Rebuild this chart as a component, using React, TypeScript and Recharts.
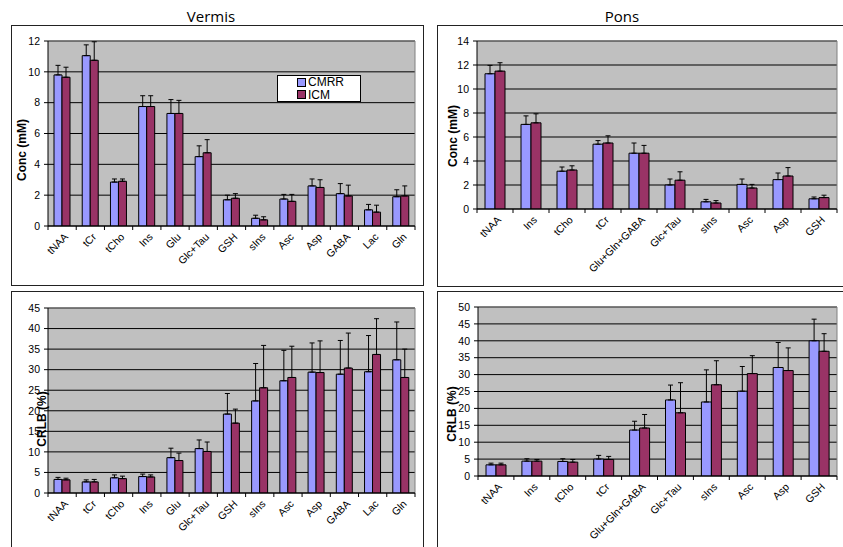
import React from 'react';
import { BarChart, Bar, XAxis, YAxis, CartesianGrid, ErrorBar, Legend } from 'recharts';

const vermisCategories = ['tNAA', 'tCr', 'tCho', 'Ins', 'Glu', 'Glc+Tau', 'GSH', 'sIns', 'Asc', 'Asp', 'GABA', 'Lac', 'Gln'];
const ponsCategories = ['tNAA', 'Ins', 'tCho', 'tCr', 'Glu+Gln+GABA', 'Glc+Tau', 'sIns', 'Asc', 'Asp', 'GSH'];

// concentrations (mM), mean and SD
const vermisConcCmrr = [9.8, 11.05, 2.85, 7.75, 7.3, 4.5, 1.7, 0.5, 1.75, 2.6, 2.1, 1.05, 1.9];
const vermisConcCmrrSd = [0.62, 0.7, 0.2, 0.7, 0.9, 0.7, 0.3, 0.2, 0.3, 0.45, 0.65, 0.35, 0.45];
const vermisConcIcm = [9.65, 10.75, 2.9, 7.75, 7.3, 4.75, 1.8, 0.4, 1.6, 2.5, 1.95, 0.9, 1.95];
const vermisConcIcmSd = [0.65, 1.2, 0.15, 0.7, 0.85, 0.85, 0.3, 0.2, 0.45, 0.5, 0.7, 0.45, 0.65];

const ponsConcCmrr = [11.27, 7.05, 3.15, 5.4, 4.65, 2.0, 0.6, 2.05, 2.45, 0.85];
const ponsConcCmrrSd = [0.7, 0.71, 0.35, 0.3, 0.85, 0.5, 0.2, 0.45, 0.55, 0.15];
const ponsConcIcm = [11.49, 7.18, 3.25, 5.5, 4.65, 2.4, 0.5, 1.75, 2.75, 0.95];
const ponsConcIcmSd = [0.7, 0.75, 0.35, 0.6, 0.65, 0.7, 0.2, 0.3, 0.7, 0.2];

// CRLB (%), mean and SD
const vermisCrlbCmrr = [3.3, 2.7, 3.7, 4.0, 8.6, 10.8, 19.2, 22.4, 27.3, 29.4, 28.9, 29.5, 32.4];
const vermisCrlbCmrrSd = [0.5, 0.5, 0.7, 0.6, 2.3, 2.1, 5.0, 9.1, 7.4, 7.1, 8.2, 8.8, 9.2];
const vermisCrlbIcm = [3.2, 2.7, 3.5, 3.9, 7.9, 10.1, 17.0, 25.6, 28.1, 29.3, 30.4, 33.7, 28.1];
const vermisCrlbIcmSd = [0.4, 0.6, 0.6, 0.5, 1.8, 2.3, 3.4, 10.3, 7.6, 7.7, 8.5, 8.7, 6.9];

const ponsCrlbCmrr = [3.3, 4.4, 4.3, 5.0, 13.6, 22.5, 21.9, 25.1, 32.1, 40.0];
const ponsCrlbCmrrSd = [0.5, 0.7, 0.8, 1.1, 2.6, 4.4, 9.5, 7.3, 7.4, 6.4];
const ponsCrlbIcm = [3.3, 4.4, 4.1, 4.9, 14.2, 18.7, 27.0, 30.3, 31.2, 36.9];
const ponsCrlbIcmSd = [0.5, 0.5, 0.8, 0.9, 4.0, 8.9, 7.1, 5.3, 6.7, 5.2];

const vermisConcTicks = [0, 2, 4, 6, 8, 10, 12];
const ponsConcTicks = [0, 2, 4, 6, 8, 10, 12, 14];
const vermisCrlbTicks = [0, 5, 10, 15, 20, 25, 30, 35, 40, 45];
const ponsCrlbTicks = [0, 5, 10, 15, 20, 25, 30, 35, 40, 45, 50];

const FONT = '"Liberation Sans", Arial, sans-serif';
const BLUE = '#9999FF';
const MAROON = '#993366';

const buildRows = (categories: string[], cmrr: number[], cmrrSd: number[], icm: number[], icmSd: number[]) =>
  categories.map((name, i) => ({
    name,
    cmrr: cmrr[i],
    cmrrErr: [0, cmrrSd[i]],
    icm: icm[i],
    icmErr: [0, icmSd[i]],
  }));

const CategoryTick = (props: any) => {
  const { x, y, payload, index, band, last } = props;
  return (
    <g>
      <line x1={x - band / 2} x2={x - band / 2} y1={y} y2={y + 4} stroke="#000" />
      {index === last && <line x1={x + band / 2} x2={x + band / 2} y1={y} y2={y + 4} stroke="#000" />}
      <text
        transform={`translate(${x + 4},${y + 9}) rotate(-45)`}
        textAnchor="end"
        dy="0.35em"
        fontSize={10.5}
        fontFamily={FONT}
        fill="#000"
      >
        {payload.value}
      </text>
    </g>
  );
};

// y axis title placed at a fixed spot inside the chart, like the original
const AxisTitle = (props: any) => {
  const { text, cx, cy } = props;
  return (
    <text
      transform={`translate(${cx},${cy}) rotate(-90)`}
      textAnchor="middle"
      dy="0.35em"
      fontWeight="bold"
      fontSize={12}
      fontFamily={FONT}
      fill="#000"
    >
      {text}
    </text>
  );
};

const LegendBox = () => (
  <div
    style={{
      width: 84,
      height: 27,
      background: '#fff',
      border: '1px solid #000',
      fontFamily: FONT,
      fontSize: 12,
      lineHeight: '12px',
      padding: '0 0 0 19px',
      boxSizing: 'border-box',
    }}
  >
    {[['CMRR', BLUE], ['ICM', MAROON]].map(([label, color]) => (
      <div key={label} style={{ display: 'flex', alignItems: 'center', height: 12.5 }}>
        <span style={{ width: 7, height: 7, background: color, border: '1px solid #000', marginRight: 2 }} />
        <span>{label}</span>
      </div>
    ))}
  </div>
);

interface PanelProps {
  left: number;
  top: number;
  width: number;
  height: number;
  marginTop: number;
  marginRight: number;
  yWidth: number;
  xHeight: number;
  categories: string[];
  cmrr: number[];
  cmrrSd: number[];
  icm: number[];
  icmSd: number[];
  ticks: number[];
  yLabel: string;
  labelX: number;
  labelY: number;
  barSize: number;
  legend?: boolean;
}

const Panel = (p: PanelProps) => {
  const data = buildRows(p.categories, p.cmrr, p.cmrrSd, p.icm, p.icmSd);
  const plotWidth = p.width - p.marginRight - p.yWidth;
  const band = plotWidth / p.categories.length;
  const max = p.ticks[p.ticks.length - 1];
  return (
    <div style={{ position: 'absolute', left: p.left, top: p.top }}>
      <BarChart
        width={p.width}
        height={p.height}
        data={data}
        margin={{ top: p.marginTop, right: p.marginRight, bottom: 0, left: 0 }}
        barGap={0}
        barSize={p.barSize}
      >
        <CartesianGrid fill="#C0C0C0" fillOpacity={1} vertical={false} stroke="#000" />
        <CartesianGrid
          horizontalPoints={[p.marginTop]}
          verticalPoints={[p.yWidth + plotWidth]}
          stroke="#808080"
          fill="none"
        />
        <XAxis
          dataKey="name"
          height={p.xHeight}
          interval={0}
          tickLine={false}
          tickSize={0}
          tickMargin={0}
          axisLine={{ stroke: '#000' }}
          tick={(props: any) => <CategoryTick {...props} band={band} last={p.categories.length - 1} />}
        />
        <YAxis
          width={p.yWidth}
          domain={[0, max]}
          ticks={p.ticks}
          interval={0}
          allowDataOverflow
          tickSize={4}
          tickMargin={4}
          axisLine={{ stroke: '#000' }}
          tickLine={{ stroke: '#000' }}
          tick={{ fontSize: 10.5, fill: '#000', fontFamily: FONT }}
          label={<AxisTitle text={p.yLabel} cx={p.labelX} cy={p.labelY} />}
        />
        {p.legend && (
          <Legend
            layout="vertical"
            align="center"
            verticalAlign="middle"
            wrapperStyle={{ left: 266, top: 50, width: 84, height: 27 }}
            content={() => <LegendBox />}
          />
        )}
        <Bar dataKey="cmrr" name="CMRR" fill={BLUE} stroke="#000" strokeWidth={1} isAnimationActive={false}>
          <ErrorBar dataKey="cmrrErr" width={2.5} stroke="#000" strokeWidth={1} isAnimationActive={false} />
        </Bar>
        <Bar dataKey="icm" name="ICM" fill={MAROON} stroke="#000" strokeWidth={1} isAnimationActive={false}>
          <ErrorBar dataKey="icmErr" width={2.5} stroke="#000" strokeWidth={1} isAnimationActive={false} />
        </Bar>
      </BarChart>
    </div>
  );
};

const boxStyle = (left: number, top: number, width: number, height: number): React.CSSProperties => ({
  position: 'absolute',
  left,
  top,
  width,
  height,
  border: '1px solid #222',
  boxSizing: 'border-box',
});

const titleStyle = (center: number): React.CSSProperties => ({
  position: 'absolute',
  left: center - 60,
  top: 6,
  width: 120,
  textAlign: 'center',
  fontFamily: '"Open Sans", Lato, sans-serif',
  fontSize: 15,
  color: '#000',
});

export default function App() {
  return (
    <div style={{ position: 'absolute', left: 0, top: 0, width: 843, height: 547, background: '#fff', overflow: 'hidden' }}>
      <div style={titleStyle(211)}>Vermis</div>
      <div style={titleStyle(622)}>Pons</div>
      <div style={boxStyle(11, 25, 413, 261)} />
      <div style={boxStyle(437, 25, 420, 262)} />
      <div style={boxStyle(11, 291, 413, 270)} />
      <div style={boxStyle(437, 291, 420, 270)} />

      <Panel
        left={11}
        top={25}
        width={412}
        height={260}
        marginTop={16}
        marginRight={8}
        yWidth={37}
        xHeight={59}
        categories={vermisCategories}
        cmrr={vermisConcCmrr}
        cmrrSd={vermisConcCmrrSd}
        icm={vermisConcIcm}
        icmSd={vermisConcIcmSd}
        ticks={vermisConcTicks}
        yLabel="Conc (mM)"
        labelX={11}
        labelY={125}
        barSize={8}
        legend
      />
      <Panel
        left={437}
        top={25}
        width={406}
        height={260}
        marginTop={16}
        marginRight={6}
        yWidth={40}
        xHeight={76}
        categories={ponsCategories}
        cmrr={ponsConcCmrr}
        cmrrSd={ponsConcCmrrSd}
        icm={ponsConcIcm}
        icmSd={ponsConcIcmSd}
        ticks={ponsConcTicks}
        yLabel="Conc (mM)"
        labelX={16}
        labelY={111}
        barSize={10}
      />
      <Panel
        left={11}
        top={290}
        width={412}
        height={257}
        marginTop={18}
        marginRight={8}
        yWidth={37}
        xHeight={54}
        categories={vermisCategories}
        cmrr={vermisCrlbCmrr}
        cmrrSd={vermisCrlbCmrrSd}
        icm={vermisCrlbIcm}
        icmSd={vermisCrlbIcmSd}
        ticks={vermisCrlbTicks}
        yLabel="CRLB (%)"
        labelX={31}
        labelY={129}
        barSize={8}
      />
      <Panel
        left={437}
        top={290}
        width={406}
        height={257}
        marginTop={17}
        marginRight={6}
        yWidth={41}
        xHeight={71}
        categories={ponsCategories}
        cmrr={ponsCrlbCmrr}
        cmrrSd={ponsCrlbCmrrSd}
        icm={ponsCrlbIcm}
        icmSd={ponsCrlbIcmSd}
        ticks={ponsCrlbTicks}
        yLabel="CRLB (%)"
        labelX={15}
        labelY={124}
        barSize={10}
      />
    </div>
  );
}
